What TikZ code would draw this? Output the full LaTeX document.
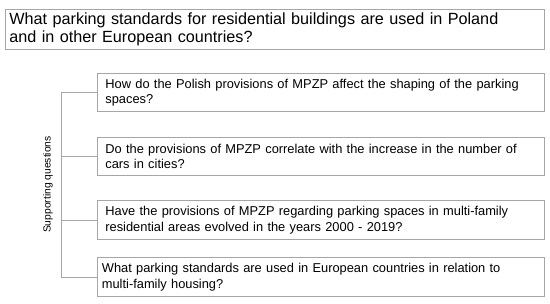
\documentclass[tikz,border=0pt]{standalone}
\usepackage{fontspec}
\setmainfont{Liberation Sans}
\usetikzlibrary{positioning}
\definecolor{linegray}{HTML}{A6A6A6}
\tikzset{
  mainbox/.style={draw=linegray, line width=0.8pt, anchor=north west, minimum width=539pt, minimum height=39pt,
    text width=531pt, inner xsep=4pt, align=left, font=\fontsize{16.2}{18}\selectfont},
  qbox/.style={draw=linegray, line width=0.8pt, anchor=north west, minimum width=447pt, minimum height=38.5pt,
    text width=431pt, inner xsep=8pt, align=left, font=\fontsize{12.85}{15.5}\selectfont},
  link/.style={draw=linegray, line width=0.8pt},
}
\begin{document}
\begin{tikzpicture}[x=1pt, y=-1pt]
    \useasboundingbox (0,0) rectangle (550,304);
    \node[mainbox] (main) at (5,9) {What parking standards for residential buildings are used in Poland\\and in other European countries?};
    \node[qbox] (q1) at (97,73) {How do the Polish provisions of MPZP affect the shaping of the parking\\spaces?};
    \node[qbox] (q2) at (97,137) {Do the provisions of MPZP correlate with the increase in the number of\\cars in cities?};
    \node[qbox] (q3) at (97,200.5) {Have the provisions of MPZP regarding parking spaces in multi-family\\residential areas evolved in the years 2000 - 2019?};
    \node[qbox, inner xsep=4.5pt, text width=438pt] (q4) at (97,257.5) {What parking standards are used in European countries in relation to\\multi-family housing?};
    \coordinate (spine) at (61,0);
    \draw[link] (q1.west) -- (q1.west -| spine) -- (q4.west -| spine) -- (q4.west);
    \draw[link] (q2.west) -- (q2.west -| spine);
    \draw[link] (q3.west) -- (q3.west -| spine);
    \node[rotate=90, font=\fontsize{10.3}{12}\selectfont] (side) at (48,184.5) {Supporting questions};
  \end{tikzpicture}
\end{document}
